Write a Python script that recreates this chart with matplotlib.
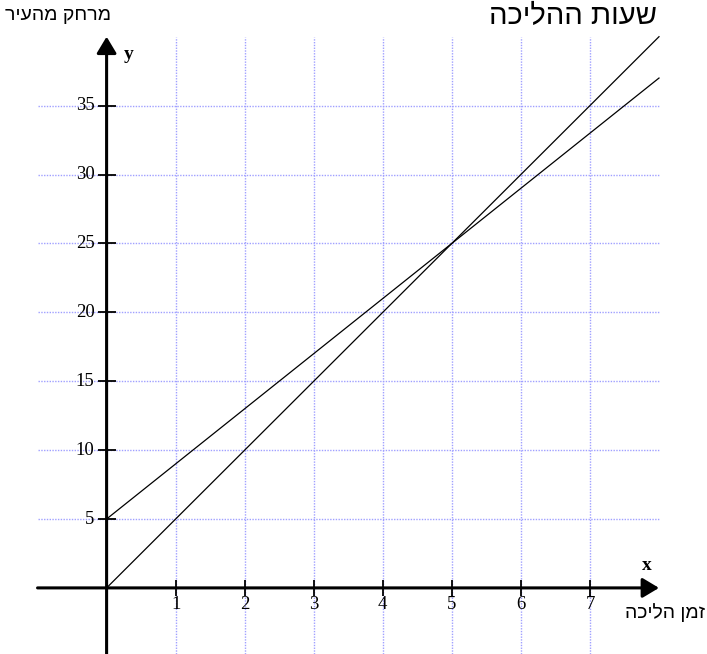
import matplotlib
matplotlib.use("Agg")
import matplotlib.pyplot as plt
import numpy as np

# ---- data ----
time_h = [0, 8]
dist_walker_a = [0, 40]      # y = 5x
dist_walker_b = [5, 37]      # y = 4x + 5
x_ticks = [1, 2, 3, 4, 5, 6, 7]
y_ticks = [5, 10, 15, 20, 25, 30, 35]
y_axis_title = "מרחק מהעיר"
x_axis_title = "זמן הליכה"
chart_title = "שעות ההליכה"

W, H = 707, 654
fig = plt.figure(figsize=(W / 100, H / 100), dpi=100)
ax = fig.add_axes([0, 0, 1, 1])

# pixel mapping
x0_px, px_per_x = 106.6, 69.05
y0_px, px_per_y = 587.9, 13.78
ax.set_xlim(-x0_px / px_per_x, (W - x0_px) / px_per_x)
ax.set_ylim(-(H - y0_px) / px_per_y, y0_px / px_per_y)
ax.axis("off")

ymin, ymax = ax.get_ylim()
grid_col = "#a0a0ff"
ax.vlines(x_ticks, ymin, 40, colors=grid_col, linestyles=(0, (1, 1)), lw=1.0, zorder=1)
ax.hlines(y_ticks, -1, 8, colors=grid_col, linestyles=(0, (1, 1)), lw=1.0, zorder=1)

# axes with arrows
arrow = dict(arrowstyle="-|>,head_length=1.0,head_width=0.6", lw=2.2, color="black",
             mutation_scale=10, shrinkA=0, shrinkB=0)
ax.annotate("", xy=(8, 0), xytext=(-1, 0), arrowprops=arrow, zorder=3)
ax.annotate("", xy=(0, 40), xytext=(0, ymin), arrowprops=arrow, zorder=3)

# ticks
tx = 8 / px_per_y
ty = 9 / px_per_x
ax.vlines(x_ticks, -tx, tx, colors="black", lw=1.3, zorder=3)
ax.hlines(y_ticks, -ty, ty, colors="black", lw=1.3, zorder=3)

serif = "Liberation Serif"
for t in x_ticks:
    ax.text(t, -17 / px_per_y, str(t), ha="center", va="center", fontsize=13.5, family=serif)
for t in y_ticks:
    ax.text(-12 / px_per_x, t, str(t), ha="right", va="center", fontsize=13.5, family=serif)

ax.text(22 / px_per_x, 38.7, "y", ha="center", va="center", fontsize=14, family=serif, fontweight="bold")
ax.text(7.82, 1.6, "x", ha="center", va="center", fontsize=14, family=serif, fontweight="bold")

# data lines
ax.plot(time_h, dist_walker_a, color="black", lw=0.9, zorder=4)
ax.plot(time_h, dist_walker_b, color="black", lw=0.9, zorder=4)

heb = "Liberation Sans"
fig.text(5 / W, 1 - 15 / H, y_axis_title[::-1], ha="left", va="center", fontsize=14, family=heb)
fig.text(657 / W, 1 - 16 / H, chart_title[::-1], ha="right", va="center", fontsize=21, family=heb)
fig.text(705 / W, 1 - 613 / H, x_axis_title[::-1], ha="right", va="center", fontsize=14, family=heb)

fig.savefig("out.png", dpi=100)
